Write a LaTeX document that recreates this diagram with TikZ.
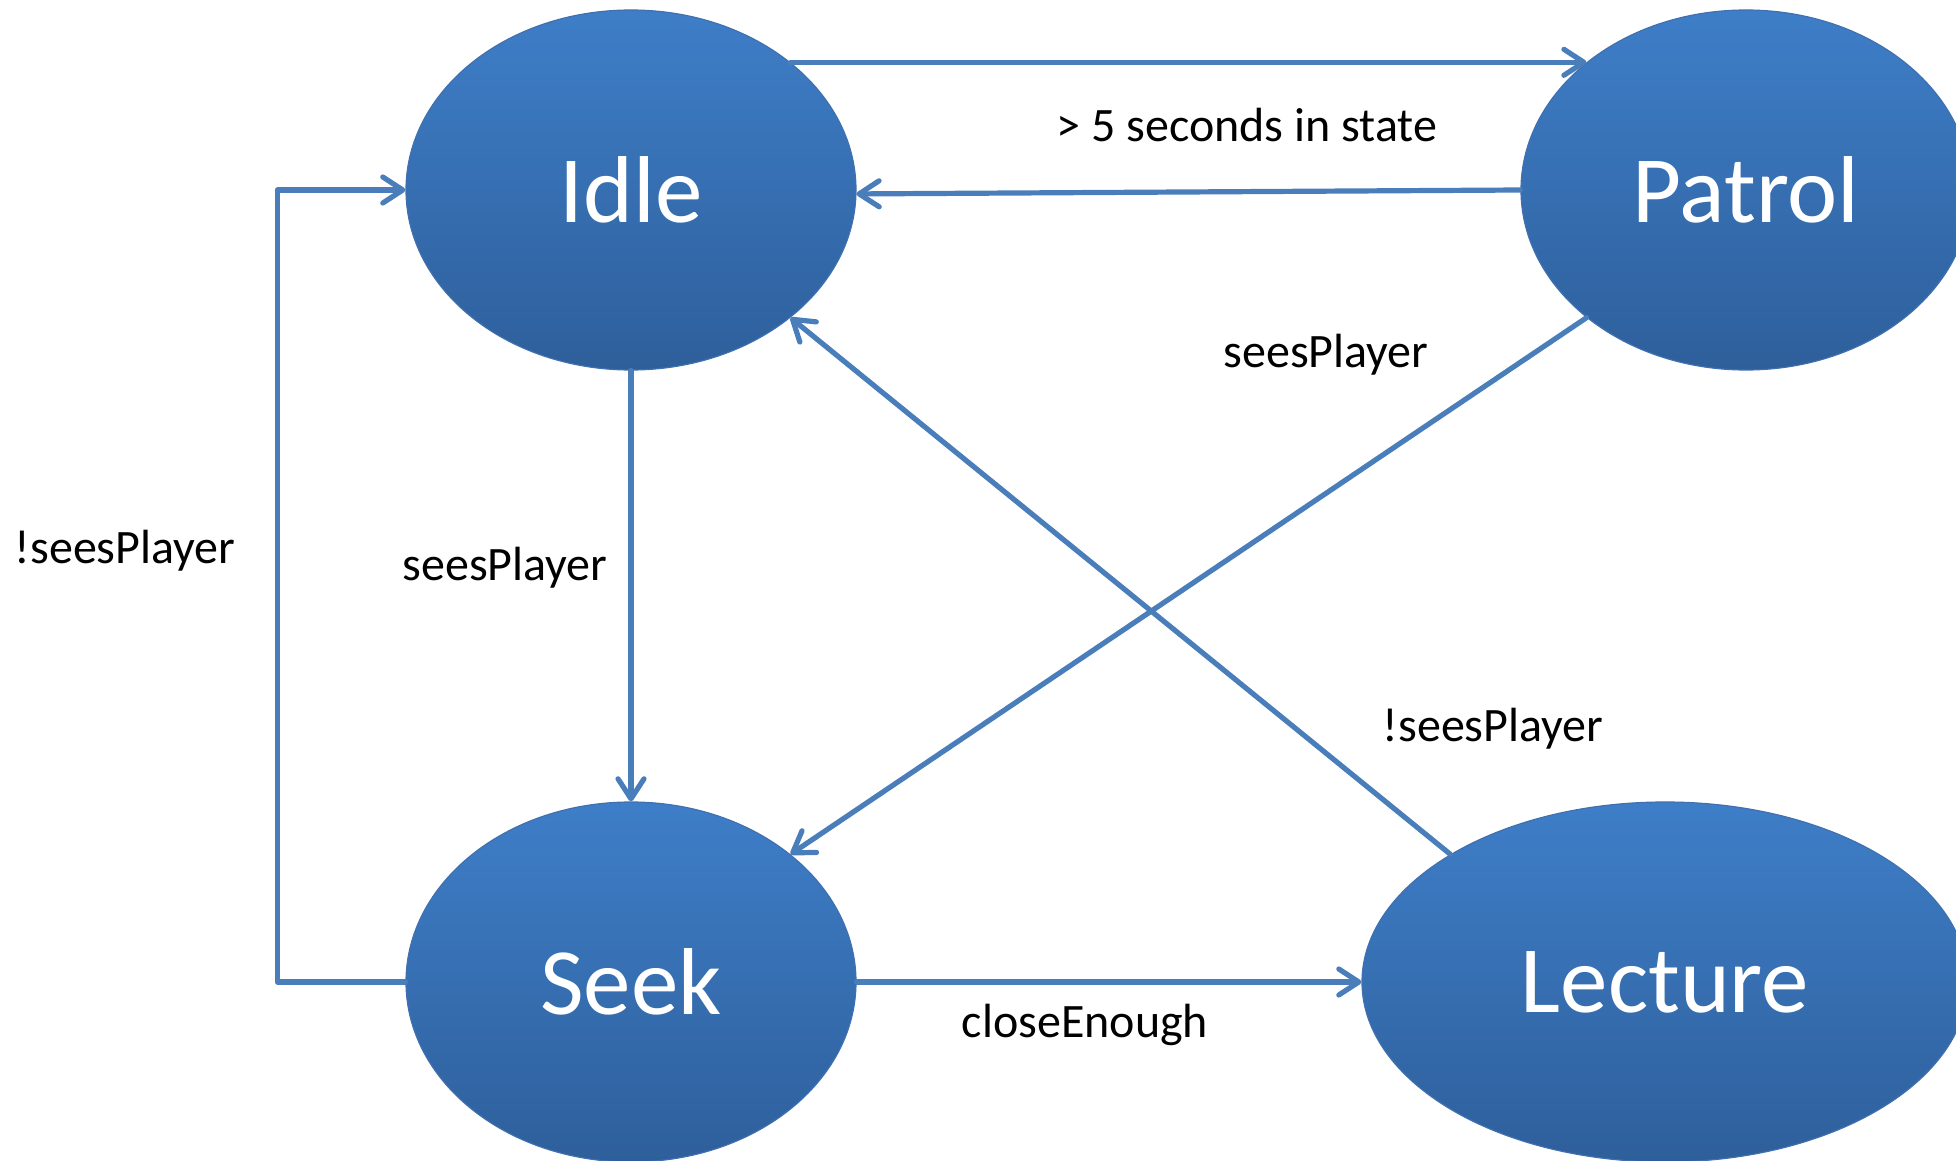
\documentclass[tikz,border=0pt]{standalone}
\usepackage{fontspec}
\setmainfont{Carlito}
\usetikzlibrary{arrows.meta,shapes.geometric}
\definecolor{stTop}{RGB}{62,126,200}
\definecolor{stBot}{RGB}{46,95,155}
\definecolor{stEdge}{RGB}{64,112,175}
\definecolor{lnk}{RGB}{74,126,187}
\begin{document}
\begin{tikzpicture}[x=0.5pt,y=-0.5pt,
  state/.style={ellipse, inner sep=0pt, minimum width=225pt, minimum height=180pt,
    top color=stTop, bottom color=stBot, draw=stEdge, line width=0.6pt,
    text=white, font=\fontsize{47.5}{52}\selectfont},
  link/.style={draw=lnk, line width=2.6pt, line cap=round, line join=round,
    -{Straight Barb[length=10pt,width=13pt,round]}},
  lbl/.style={anchor=base, font=\fontsize{24}{28}\selectfont, inner sep=0pt}]
\useasboundingbox (0,0) rectangle (1956,1161);
\clip (0,0) rectangle (1956,1161);

% states
\node[state] (idle) at (631,190) {Idle};
\node[state] (patrol) at (1746,190) {Patrol};
\node[state] (seek) at (631,982) {Seek};
\node[state, minimum width=303pt] (lecture) at (1665,982) {Lecture};

% transitions
\draw[link] (idle.north east) -- (patrol.north west);
\draw[link] (patrol.west) -- (idle.-1);
\draw[link] (idle.south) -- (seek.north);
\draw[link] (patrol.south west) -- (seek.north east);
\draw[link] (lecture.north west) -- (idle.south east);
\draw[link] (seek.east) -- (lecture.west);
\draw[link] (seek.west) -- ++(-128,0) |- (idle.west);

% transition conditions
\node[lbl] (l1) at (1247,142) {> 5 seconds in state};
\node[lbl] (l2) at (1326,367) {seesPlayer};
\node[lbl] (l3) at (125,563) {!seesPlayer};
\node[lbl] (l4) at (505,580) {seesPlayer};
\node[lbl] (l5) at (1493,741) {!seesPlayer};
\node[lbl] (l6) at (1085,1037) {closeEnough};
\end{tikzpicture}
\end{document}
